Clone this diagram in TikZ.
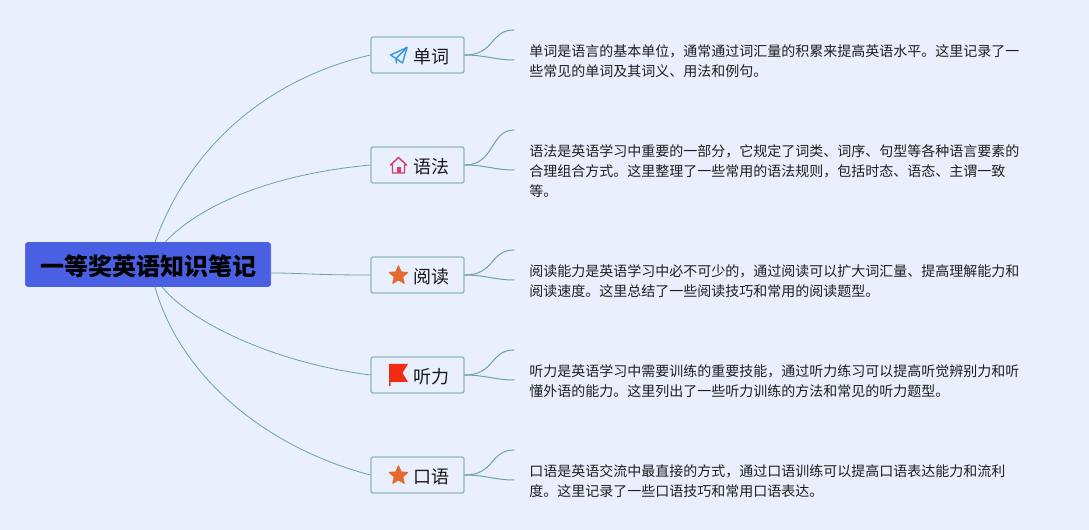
\documentclass[tikz,border=0pt]{standalone}
\usepackage{fontspec}
\setmainfont{Noto Sans CJK SC}
\usetikzlibrary{shapes.geometric}
\definecolor{bgblue}{HTML}{E9EFFD}
\definecolor{rootblue}{HTML}{4A60E2}
\definecolor{edgeteal}{HTML}{6FA3A3}
\definecolor{boxteal}{HTML}{8FB9BE}
\definecolor{planeblue}{HTML}{3C9BDD}
\definecolor{housered}{HTML}{DE3A68}
\definecolor{starorange}{HTML}{E46A30}
\definecolor{flagred}{HTML}{F22C10}
\tikzset{
rootbox/.style={fill=rootblue,draw=rootblue,rounded corners=2pt,line width=0.5pt,minimum width=184pt,minimum height=33pt,inner sep=0pt,font=\fontsize{18}{18}\selectfont\bfseries,text=black,text height=16.7pt,text depth=0pt},
branchbox/.style={draw=boxteal,fill=bgblue,rounded corners=1.5pt,line width=1pt,text width=47.25pt,align=right,inner xsep=11.25pt,inner ysep=0pt,minimum height=27pt,font=\fontsize{13.5}{16}\selectfont,text=black!90,text height=13.2pt,text depth=0pt},
notetext/.style={anchor=west,align=left,inner xsep=11.25pt,inner ysep=0pt,font=\fontsize{10.5}{15}\selectfont,text=black!88},
rootedge/.style={draw=edgeteal,line width=0.6pt},
subedge/.style={draw=edgeteal,line width=0.75pt},
staricon/.style={star,star points=5,star point ratio=2.2,fill=starorange,draw=starorange,line join=round,line width=0.8pt,inner sep=0pt,minimum size=14.5pt}
}
\begin{document}
\begin{tikzpicture}[line cap=round,line join=round,x=0.75pt,y=-0.75pt]
\fill[bgblue] (0,0) rectangle (1089,530);
\useasboundingbox (0,0) rectangle (1089,530);
\node[rootbox] (root) at (148,264.5) {一等奖英语知识笔记};
\node[branchbox] (danci) at (417.5,55) {单词};
\node[branchbox] (yufa) at (417.5,165) {语法};
\node[branchbox] (yuedu) at (417.5,275) {阅读};
\node[branchbox] (tingli) at (417.5,375) {听力};
\node[branchbox] (kouyu) at (417.5,475) {口语};
\node[notetext] (dancinote) at (514,61) {单词是语言的基本单位，通常通过词汇量的积累来提高英语水平。这里记录了一\\些常见的单词及其词义、用法和例句。};
\node[notetext] (yufanote) at (514,171) {语法是英语学习中重要的一部分，它规定了词类、词序、句型等各种语言要素的\\合理组合方式。这里整理了一些常用的语法规则，包括时态、语态、主谓一致\\等。};
\node[notetext] (yuedunote) at (514,281) {阅读能力是英语学习中必不可少的，通过阅读可以扩大词汇量、提高理解能力和\\阅读速度。这里总结了一些阅读技巧和常用的阅读题型。};
\node[notetext] (tinglinote) at (514,381) {听力是英语学习中需要训练的重要技能，通过听力练习可以提高听觉辨别力和听\\懂外语的能力。这里列出了一些听力训练的方法和常见的听力题型。};
\node[notetext] (kouyunote) at (514,481) {口语是英语交流中最直接的方式，通过口语训练可以提高口语表达能力和流利\\度。这里记录了一些口语技巧和常用口语表达。};
\coordinate (danciend) at (514,30);
\coordinate (yufaend) at (514,130);
\coordinate (yueduend) at (514,250);
\coordinate (tingliend) at (514,350);
\coordinate (kouyuend) at (514,450);
% root to branches
\draw[rootedge] ([xshift=5.25pt]root.north) .. controls +(33,-92) and +(-107,25) .. (danci.west);
\draw[rootedge] ([xshift=12.75pt]root.north) .. controls +(32,-34) and +(-106,10) .. (yufa.west);
\draw[rootedge] (root.east |- 271,273) .. controls +(30,0) and +(-60,0) .. (yuedu.west);
\draw[rootedge] ([xshift=10.5pt]root.south) .. controls +(26,33) and +(-101,-13) .. (tingli.west);
\draw[rootedge] ([xshift=5.25pt]root.south) .. controls +(23,83) and +(-113,-30) .. (kouyu.west);
% branches to notes
\draw[subedge] (danci.east) .. controls (495,55) and (490,30) .. (danciend);
\draw[subedge] (danci.east) .. controls (485,55) and (495,60) .. ([yshift=0.75pt]dancinote.west);
\draw[subedge] (yufa.east) .. controls (495,165) and (490,130) .. (yufaend);
\draw[subedge] (yufa.east) .. controls (485,165) and (495,170) .. ([yshift=0.75pt]yufanote.west);
\draw[subedge] (yuedu.east) .. controls (495,275) and (490,250) .. (yueduend);
\draw[subedge] (yuedu.east) .. controls (485,275) and (495,280) .. ([yshift=0.75pt]yuedunote.west);
\draw[subedge] (tingli.east) .. controls (495,375) and (490,350) .. (tingliend);
\draw[subedge] (tingli.east) .. controls (485,375) and (495,380) .. ([yshift=0.75pt]tinglinote.west);
\draw[subedge] (kouyu.east) .. controls (495,475) and (490,450) .. (kouyuend);
\draw[subedge] (kouyu.east) .. controls (485,475) and (495,480) .. ([yshift=0.75pt]kouyunote.west);
% icons
\draw[planeblue,line width=1.1pt] (407,47.5) -- (390.5,55) -- (396,58.5) -- (402.5,63) -- cycle;
\draw[planeblue,line width=1.1pt] (407,47.5) -- (396,58.5) -- (396.5,63);
\draw[housered,line width=1.1pt] (390.5,165) -- (398.5,157.5) -- (406.5,165) -- (404.5,165) -- (404.5,173) -- (392.5,173) -- (392.5,165) -- cycle;
\fill[housered] (396.5,173) -- (396.5,167.5) -- (400.5,167.5) -- (400.5,173) -- cycle;
\node[staricon] (yuedustar) at (398.5,275.5) {};
\fill[flagred] (389,364) -- (408,364) -- (402.5,373) -- (408,382) -- (390.5,382) -- (390.5,386) -- (389,386) -- cycle;
\node[staricon] (kouyustar) at (398.5,475.5) {};
\end{tikzpicture}
\end{document}
